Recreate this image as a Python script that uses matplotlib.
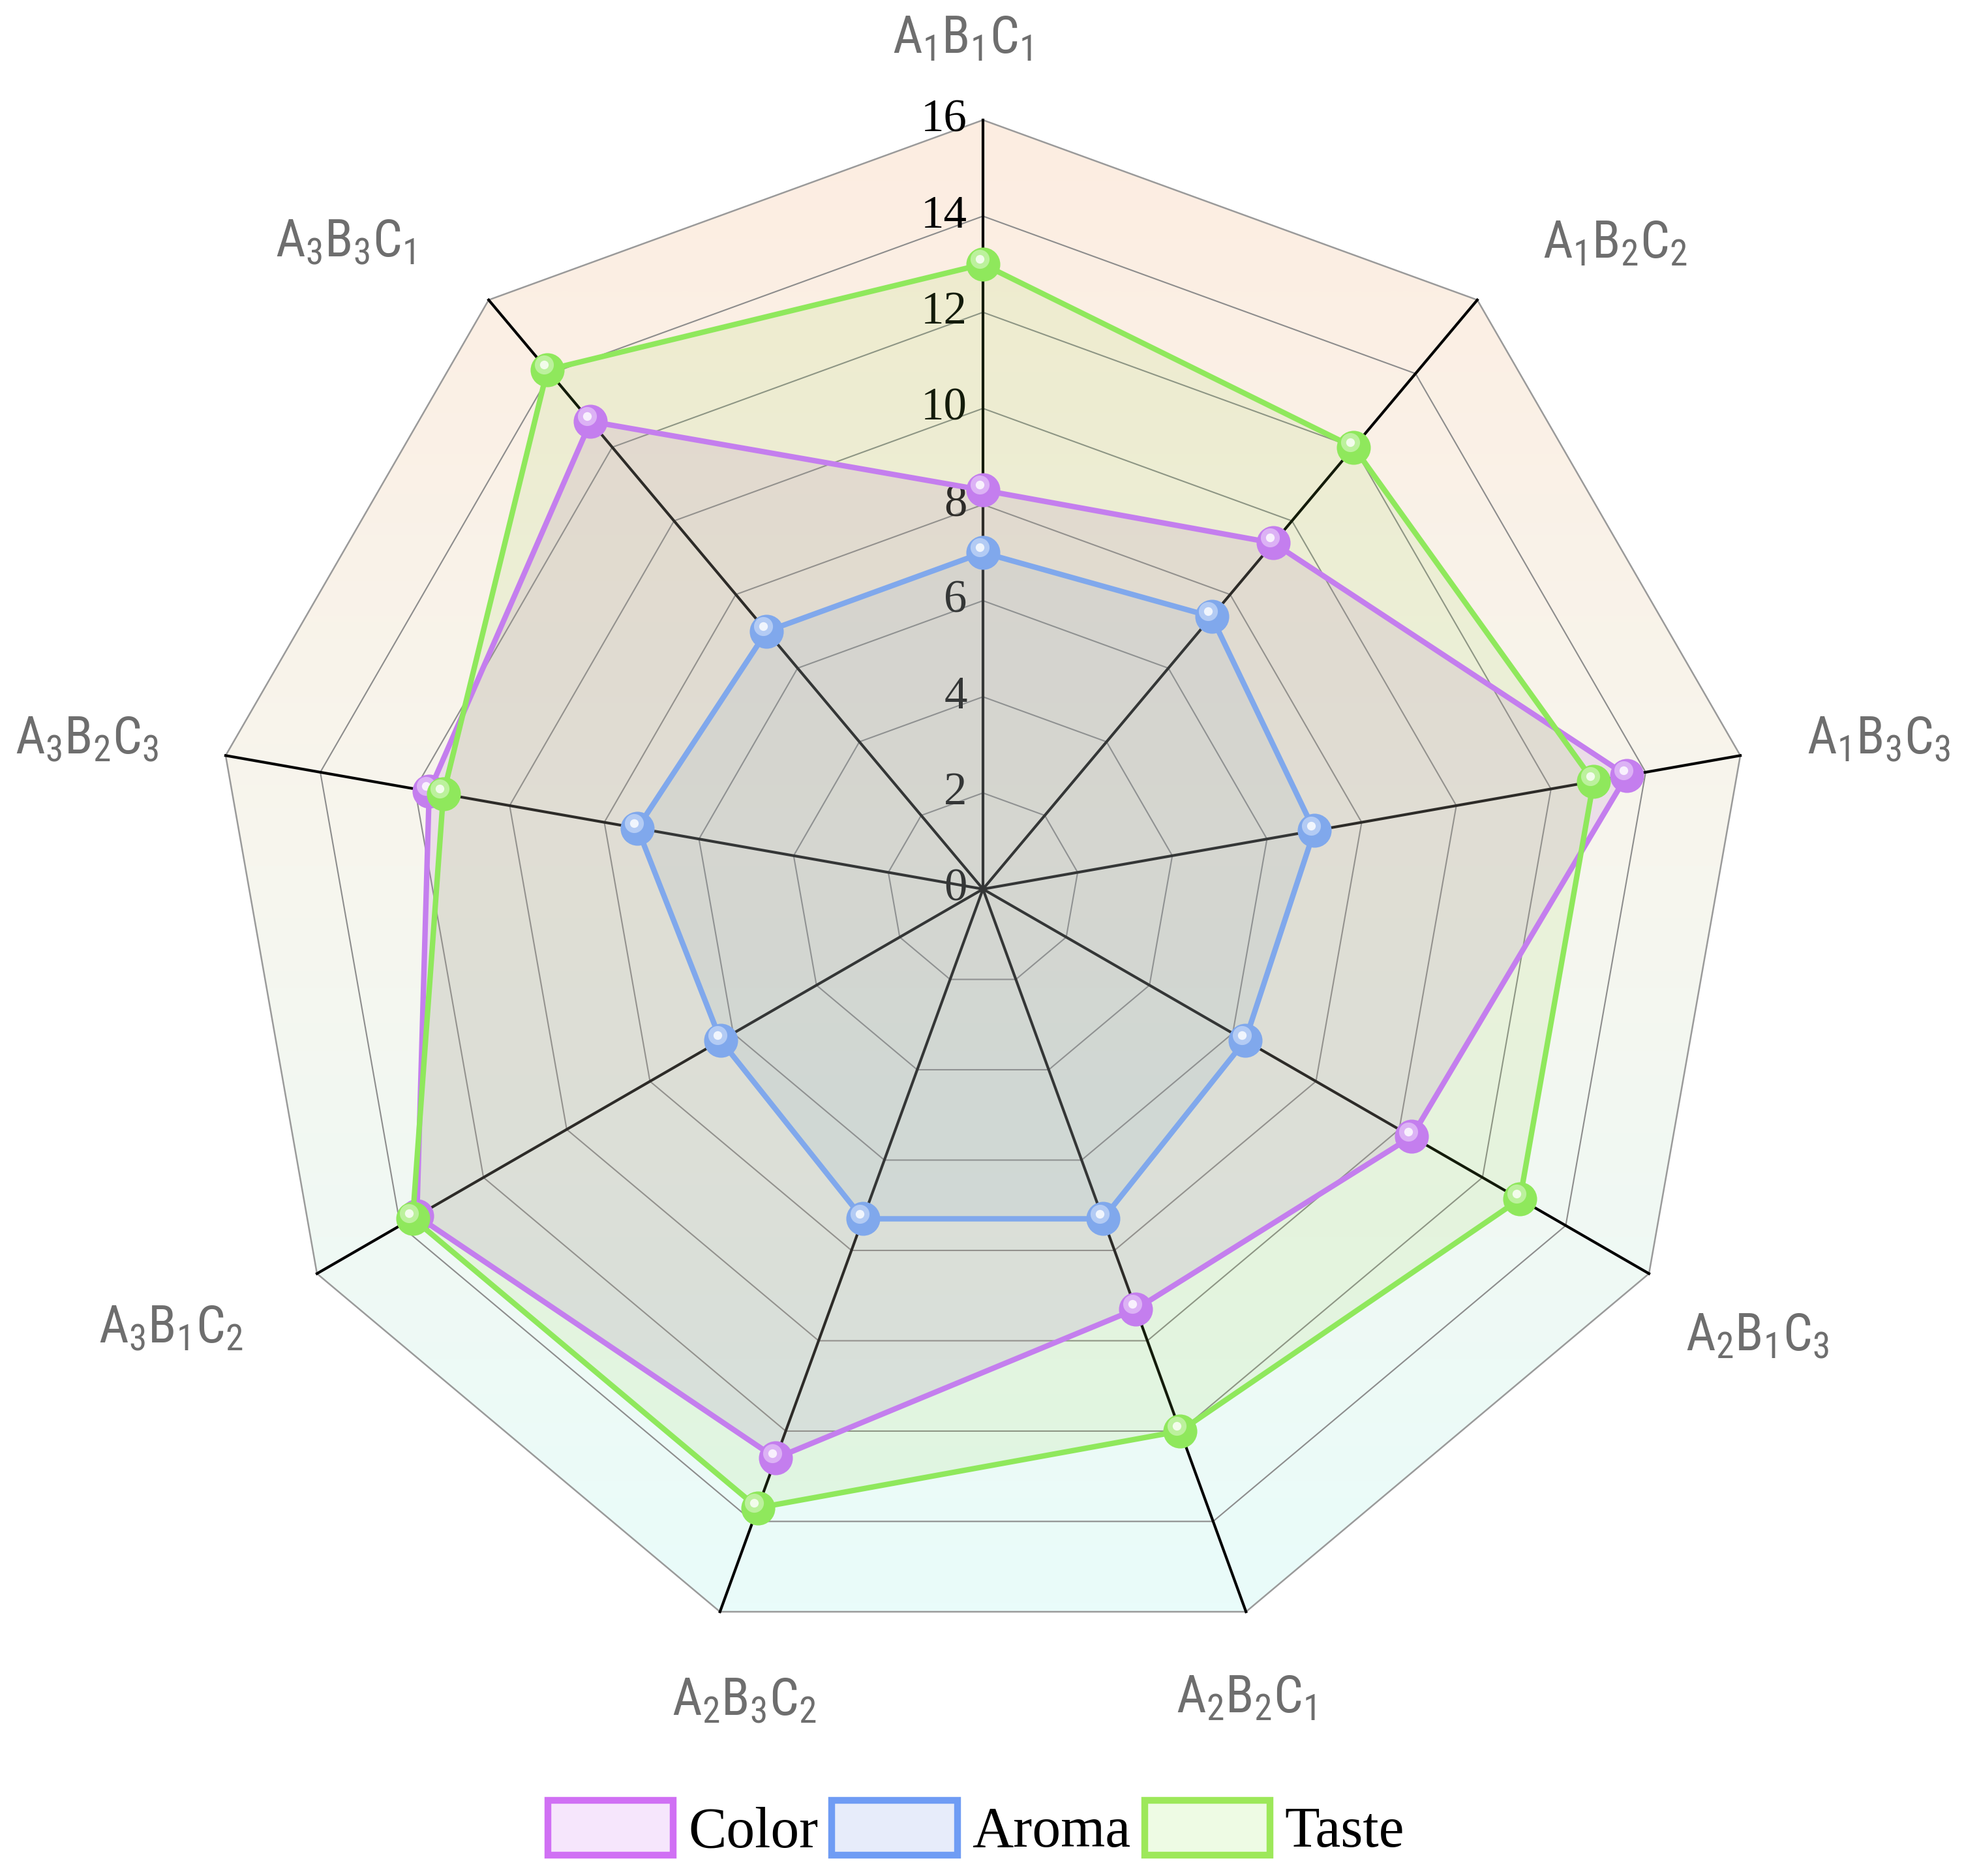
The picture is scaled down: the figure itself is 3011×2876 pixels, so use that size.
import numpy as np
import matplotlib.pyplot as plt
from matplotlib.patches import Polygon, Patch
from matplotlib.colors import LinearSegmentedColormap, to_rgb
from matplotlib import transforms
from matplotlib import font_manager as fm

# ---- data ----
categories = ['A_1B_1C_1', 'A_1B_2C_2', 'A_1B_3C_3', 'A_2B_1C_3', 'A_2B_2C_1',
              'A_2B_3C_2', 'A_3B_1C_2', 'A_3B_2C_3', 'A_3B_3C_1']
color_vals = [8.3, 9.4, 13.6, 10.3, 9.3, 12.6, 13.6, 11.7, 12.7]
aroma_vals = [7.0, 7.4, 7.0, 6.3, 7.3, 7.3, 6.3, 7.3, 7.0]
taste_vals = [13.0, 12.0, 12.9, 12.9, 12.0, 13.7, 13.7, 11.4, 14.1]
series_names = ['Color', 'Aroma', 'Taste']
ticks = [0, 2, 4, 6, 8, 10, 12, 14, 16]

# label placement (radius, angle nudge in degrees)
label_r = [17.7, 18.8, 18.9, 18.6, 17.7, 17.6, 19.2, 18.9, 18.9]
label_da = [-1.4, 4.4, 0.5, 0.0, 2.0, -3.6, 1.6, -0.5, -4.6]

R_MAX = 16
n = len(categories)
theta = np.arange(n) * 2 * np.pi / n   # clockwise, starting at top


def xy(r):
    r = np.asarray(r, dtype=float)
    return r * np.sin(theta), r * np.cos(theta)


def lighten(c, f):
    c = np.array(to_rgb(c))
    return tuple(c + (1 - c) * f)


def have(name):
    try:
        fm.findfont(fm.FontProperties(family=name), fallback_to_default=False)
        return True
    except ValueError:
        return False


narrow = [f for f in ['Liberation Sans Narrow', 'Roboto Condensed',
                      'DejaVu Sans Condensed', 'Arial Narrow'] if have(f)]
if narrow:
    label_font, label_size = narrow[0], 19
else:
    label_font, label_size = 'Liberation Sans', 17

W, H = 3011, 2876
fig = plt.figure(figsize=(W / 300, H / 300), dpi=300)
ax = fig.add_axes([0, 0, 1, 1])
ax.axis('off')

# background gradient inside the outer polygon
ox, oy = xy(np.full(n, R_MAX))
outer = Polygon(np.column_stack([ox, oy]), closed=True, facecolor='none',
                edgecolor='#9a9a9a', lw=0.6, zorder=1)
ax.add_patch(outer)
grad = np.linspace(1, 0, 256).reshape(-1, 1)
bg_cmap = LinearSegmentedColormap.from_list('bg', ['#e9fcfa', '#f7f6ee', '#fdede1'])
im = ax.imshow(grad, cmap=bg_cmap, extent=(-R_MAX, R_MAX, oy.min(), R_MAX),
               aspect='auto', origin='upper', zorder=0, interpolation='bilinear')
im.set_clip_path(outer)

# grid rings
for t in ticks[1:-1]:
    gx, gy = xy(np.full(n, t))
    ax.fill(gx, gy, facecolor='none', edgecolor='#8c8c8c', lw=0.5, zorder=1)

# spokes
for i in range(n):
    ax.plot([0, ox[i]], [0, oy[i]], color='black', lw=1.0, zorder=1.5)

# tick labels on the top axis
for t in ticks:
    ax.text(-0.33, t, str(t), ha='right', va='center', fontsize=17,
            family=['Liberation Serif', 'DejaVu Serif'], color='black', zorder=2)

# category labels
for i, cat in enumerate(categories):
    a = theta[i] + np.deg2rad(label_da[i])
    ax.text(label_r[i] * np.sin(a), label_r[i] * np.cos(a), r'$\mathregular{' + cat + '}$',
            ha='center', va='center', fontsize=label_size, color='#6e6e6e',
            family=label_font)

# series
line_colors = ['#c47eee', '#80a8ec', '#8fe85c']
fill_colors = ['#b070d0', '#7090c8', '#9ad850']
fill_alpha = [0.17, 0.10, 0.13]
all_vals = [color_vals, aroma_vals, taste_vals]

for i, vals in enumerate(all_vals):
    x, y = xy(vals)
    ax.fill(x, y, facecolor=fill_colors[i], alpha=fill_alpha[i], lw=0, zorder=3)

hl = transforms.offset_copy(ax.transData, fig=fig, x=-1.3, y=1.9, units='points')
for i, vals in enumerate(all_vals):
    x, y = xy(vals)
    z = 4 + i
    ax.plot(np.append(x, x[0]), np.append(y, y[0]), color=line_colors[i], lw=2, zorder=z)
    ax.plot(x, y, 'o', ms=12.5, color=line_colors[i], mec='none', zorder=z + 0.1)
    ax.plot(x, y, 'o', ms=7, color=lighten(line_colors[i], 0.4), mec='none',
            transform=hl, zorder=z + 0.2)
    ax.plot(x, y, 'o', ms=3.2, color=lighten(line_colors[i], 0.88), mec='none',
            transform=hl, zorder=z + 0.3)

# legend
edge_colors = ['#d070f4', '#6f9cf4', '#9de85a']
face_colors = ['#f6e6fc', '#e7ecfa', '#eefbe4']
handles = [Patch(facecolor=face_colors[i], edgecolor=edge_colors[i], lw=2.5,
                 label=series_names[i]) for i in range(3)]
ax.legend(handles=handles, loc='center', bbox_to_anchor=(0.497, 0.0247),
          bbox_transform=fig.transFigure, ncol=3, frameon=False,
          prop={'family': 'Liberation Serif', 'size': 21},
          handlelength=2.2, handleheight=1.1, handletextpad=0.26,
          columnspacing=0.24)

# limits: centre at pixel (1507, 1363), outer radius 1179 px
u = R_MAX / 1179
ax.set_xlim(-1507 * u, (W - 1507) * u)
ax.set_ylim(-(H - 1363) * u, 1363 * u)

fig.savefig('out.png', dpi=300)
